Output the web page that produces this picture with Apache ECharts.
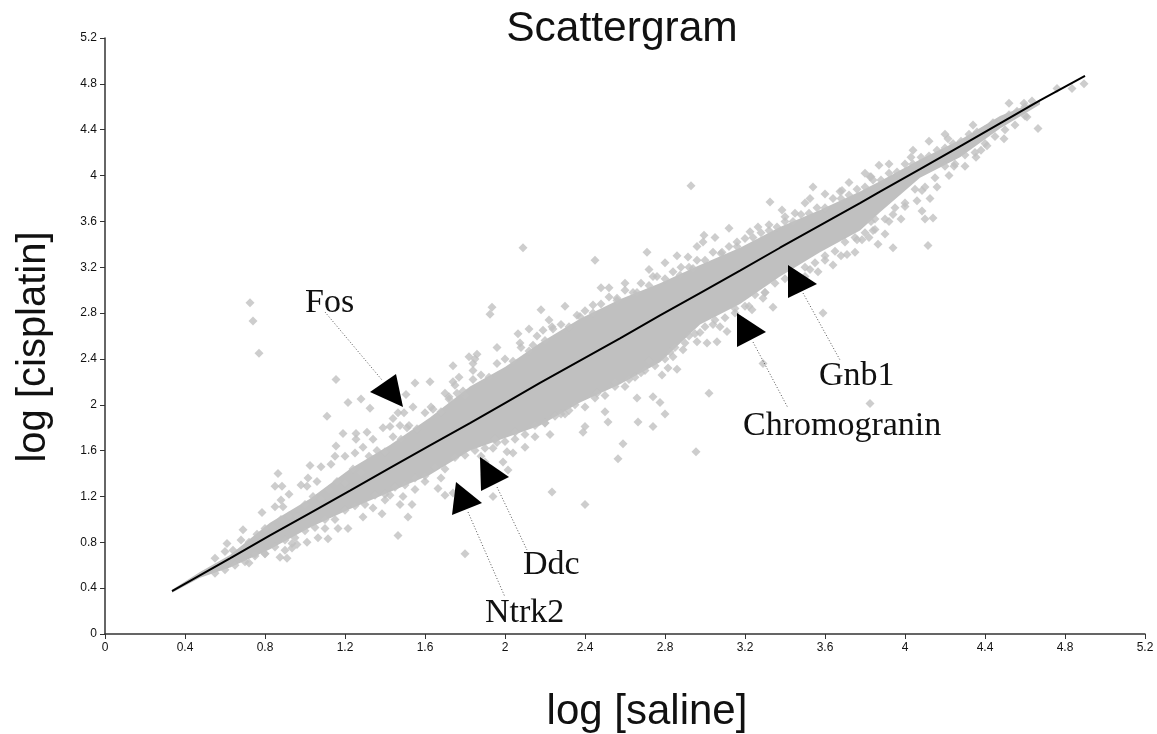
<!DOCTYPE html>
<html><head><meta charset="utf-8">
<script src="https://cdn.jsdelivr.net/npm/echarts@6/dist/echarts.min.js"></script>
<style>html,body{margin:0;padding:0;background:#fff}#c{width:1157px;height:734px}</style></head>
<body><div id="c"></div>
<script>
const titleText='Scattergram', xName='log [saline]', yName='log [cisplatin]';
const bandX=[0.335,0.475,0.625,0.825,1.025,1.225,1.425,1.625,1.825,2.0,2.175,2.375,2.575,2.775,2.975,3.175,3.375,3.575,3.775,3.875,4.075,4.275,4.475,4.675];
const bandUpper=[0.385,0.54,0.69,0.97,1.18,1.44,1.65,1.89,2.16,2.33,2.54,2.75,2.92,3.06,3.22,3.37,3.55,3.70,3.86,3.95,4.14,4.31,4.52,4.66];
const bandLower=[0.36,0.49,0.58,0.74,0.93,1.09,1.24,1.39,1.60,1.71,1.82,2.02,2.18,2.37,2.70,2.88,3.12,3.33,3.52,3.68,3.98,4.16,4.41,4.62];
const lineX=[0.335,0.625,0.825,1.025,1.225,1.425,1.625,1.825,2.0,2.175,2.375,2.575,2.775,2.975,3.175,3.375,3.575,3.775,3.875,4.075,4.275,4.475,4.675,4.9];
const lineY=[0.375,0.66,0.86,1.055,1.25,1.45,1.645,1.84,2.015,2.19,2.385,2.58,2.78,2.975,3.17,3.37,3.565,3.76,3.86,4.055,4.255,4.455,4.655,4.87];
const pointsX=[0.725,0.74,0.77,1.155,1.11,1.215,1.28,1.325,1.55,1.625,1.505,1.54,1.465,1.495,1.425,1.475,1.51,1.19,1.255,1.255,1.31,1.155,1.29,1.025,0.865,0.85,0.885,0.88,0.85,0.89,0.785,0.69,0.61,
1.80,1.465,1.515,1.385,1.29,1.215,1.165,1.115,1.065,1.01,0.935,0.935,0.875,0.91,1.475,1.535,1.425,1.49,1.665,1.70,1.74,1.94,1.99,2.015,1.96,2.01,2.04,
2.235,2.40,2.955,2.09,2.93,3.825,2.45,2.71,2.915,2.995,2.99,3.325,3.385,3.54,3.525,1.935,1.925,2.18,2.065,2.075,2.235,2.19,2.14,2.44,3.225,3.265,3.32,3.16,2.74,2.875,2.375,2.56,2.66,2.94,3.085,3.45,3.675,3.825,
2.565,2.59,3.02,3.59,3.29,2.80,2.74,2.665,2.515,2.50,2.40,2.39,2.775,2.74,2.66,2.225,2.10,3.34,2.785,2.86,2.815,2.89,2.825,2.96,3.01,3.06,3.075,3.11,2.975,3.235,3.29,3.64,3.71,3.75,3.865,3.94,3.90,3.565,3.525,
3.87,3.83,4.52,4.34,4.665,4.495,4.41,4.355,4.245,4.085,4.125,4.085,4.10,4.14,4.115,3.82,3.785,3.85,4.0,3.94,3.83,4.895,4.835,4.76,4.635,4.595,4.61,4.56,4.215,4.03,3.685,
1.015,1.01,1.06,1.13,1.20,1.25,1.34,1.39,1.44,1.63,1.70,1.74,1.74,1.84,1.84,1.82,1.85,1.86,1.79,1.77,1.72,1.75,1.96,0.92,0.98,1.08,1.15,
0.72,0.75,0.80,0.90,0.96,1.10,1.34,1.40,1.55,1.60,1.68,1.88,1.90,1.94,2.05,2.15,2.20,2.28,2.32,2.46,2.55,2.62,2.68,2.72,2.84,2.92,3.04,3.15,3.22,3.30,3.44,3.50,3.60,3.68,3.76,3.84,3.92,3.98,4.06,4.16,4.22,4.30,4.38,
2.12,2.22,2.30,2.48,2.52,2.60,2.72,2.80,2.86,2.96,3.05,3.12,3.40,3.50,3.60,3.72,3.80,3.92,4.04,4.12,4.2];
const pointsY=[2.89,2.73,2.45,2.22,1.90,2.02,2.05,1.97,2.19,2.20,2.09,1.98,1.93,1.93,1.81,1.82,1.80,1.75,1.75,1.70,1.76,1.64,1.63,1.47,1.40,1.29,1.29,1.17,1.11,1.11,1.06,0.91,0.79,
0.70,0.86,1.02,1.05,1.02,0.92,0.92,0.83,0.84,0.80,0.79,0.75,0.67,0.66,1.13,1.13,1.21,1.20,1.27,1.21,1.23,1.20,1.50,1.43,1.67,1.59,1.58,
1.24,1.13,1.59,3.37,3.91,2.01,3.26,3.33,3.29,3.48,3.42,3.77,3.70,3.90,3.80,2.85,2.79,2.83,2.62,2.54,2.68,2.65,2.52,2.87,3.51,3.55,3.57,3.42,3.12,3.13,2.77,2.93,2.98,3.19,3.33,3.67,3.86,3.99,
1.53,1.66,2.10,2.80,2.36,1.92,1.81,1.85,1.85,1.94,1.81,1.76,2.02,2.07,2.06,1.74,1.63,2.85,2.26,2.31,2.32,2.48,2.46,2.55,2.54,2.55,2.68,2.64,2.63,2.83,2.93,3.22,3.31,3.33,3.40,3.37,3.49,3.16,3.18,
4.09,3.99,4.63,4.44,4.41,4.32,4.26,4.16,4.08,3.87,3.80,3.69,3.62,3.63,3.39,3.46,3.44,3.53,3.73,3.66,3.60,4.80,4.76,4.76,4.65,4.63,4.51,4.56,4.32,4.16,3.87,
1.36,1.29,1.33,1.48,1.55,1.58,1.70,1.80,1.88,1.98,2.10,2.20,2.34,2.30,2.36,2.42,2.40,2.44,2.12,2.24,2.05,2.17,2.50,1.22,1.30,1.46,1.55,
0.62,0.68,0.70,0.73,0.78,0.92,1.10,1.17,1.26,1.33,1.36,1.55,1.50,1.62,1.70,1.72,1.84,1.92,1.95,2.10,2.20,2.22,2.28,2.38,2.42,2.60,2.70,2.80,2.86,2.98,3.06,3.12,3.26,3.30,3.44,3.52,3.60,3.62,3.78,3.90,4.00,4.08,4.22,
2.66,2.74,2.86,3.02,3.02,3.06,3.18,3.24,3.30,3.38,3.46,3.54,3.64,3.76,3.84,3.94,4.02,4.10,4.22,4.30,4.36];
const upperEdgeX=[0.55,0.60,0.64,0.68,0.72,0.76,0.80,0.84,0.88,0.92,0.96,1.0,1.04,1.08,1.12,1.16,1.2,1.24,1.28,1.32,1.36,1.4,1.44,1.48,1.52,1.56,1.6,1.64,1.68,1.72,1.76,1.8,1.84,1.88,1.92,1.96,2.0,2.04,2.08,2.12,2.16,2.2,2.24,2.28,2.32,2.36,2.4,2.44,2.48,2.52,2.56,2.6,2.64,2.68,2.72,2.76,2.8,2.84,2.88,2.92,2.96,3.0,3.04,3.08,3.12,3.16,3.2,3.24,3.28,3.32,3.36,3.4,3.44,3.48,3.52,3.56,3.6,3.64,3.68,3.72,3.76,3.8,3.84,3.88,3.92,3.96,4.0,4.04,4.08,4.12,4.16,4.2,4.24,4.28,4.32,4.36,4.4,4.44,4.48,4.52,4.56,4.6];
const upperEdgeY=[0.66,0.72,0.73,0.82,0.80,0.87,0.92,0.93,1.0,1.03,1.02,1.13,1.20,1.18,1.26,1.33,1.32,1.44,1.41,1.55,1.60,1.59,1.72,1.70,1.82,1.79,1.93,1.96,1.94,2.07,2.10,2.08,2.22,2.26,2.24,2.36,2.40,2.38,2.50,2.47,2.60,2.56,2.66,2.70,2.68,2.78,2.82,2.80,2.88,2.94,2.91,3.0,2.98,3.06,3.04,3.12,3.10,3.16,3.2,3.2,3.26,3.26,3.33,3.32,3.38,3.38,3.45,3.46,3.50,3.52,3.55,3.60,3.60,3.66,3.67,3.72,3.72,3.80,3.80,3.83,3.88,3.90,3.96,3.96,4.02,4.03,4.10,4.10,4.16,4.17,4.22,4.24,4.28,4.30,4.36,4.38,4.40,4.46,4.48,4.53,4.55,4.60];
const lowerEdgeX=[0.55,0.6,0.65,0.7,0.75,0.8,0.85,0.9,0.95,1.0,1.05,1.1,1.15,1.2,1.25,1.3,1.35,1.4,1.45,1.5,1.55,1.6,1.65,1.7,1.75,1.8,1.85,1.9,1.95,2.0,2.05,2.1,2.15,2.2,2.25,2.3,2.35,2.4,2.45,2.5,2.55,2.6,2.65,2.7,2.75,2.8,2.85,2.9,2.95,3.0,3.05,3.1,3.15,3.2,3.25,3.3,3.35,3.4,3.45,3.5,3.55,3.6,3.65,3.7,3.75,3.8,3.85,3.9,3.95,4.0,4.05,4.1,4.15,4.2,4.25,4.3,4.35,4.4,4.45,4.5,4.55,4.6];
const lowerEdgeY=[0.53,0.56,0.60,0.63,0.70,0.70,0.76,0.82,0.84,0.90,0.93,1.0,1.0,1.08,1.12,1.13,1.21,1.22,1.28,1.30,1.36,1.38,1.46,1.44,1.54,1.56,1.60,1.62,1.70,1.68,1.76,1.74,1.82,1.84,1.90,1.92,2.0,1.98,2.06,2.08,2.16,2.16,2.24,2.30,2.34,2.40,2.50,2.54,2.62,2.68,2.74,2.76,2.84,2.86,2.96,2.98,3.06,3.10,3.14,3.20,3.24,3.30,3.34,3.42,3.46,3.50,3.62,3.62,3.72,3.76,3.88,3.90,3.98,4.08,4.10,4.18,4.20,4.28,4.34,4.40,4.44,4.52];
const labelTexts=['Fos','Ddc','Ntrk2','Chromogranin','Gnb1'];
const tickStep=0.4, axisMax=5.2;

const pts=pointsX.map((x,i)=>[x,pointsY[i]])
  .concat(upperEdgeX.map((x,i)=>[x,upperEdgeY[i]]))
  .concat(lowerEdgeX.map((x,i)=>[x,lowerEdgeY[i]]));
const band=bandX.map((x,i)=>[x,bandUpper[i],bandLower[i]]);
const fmt=v=>String(parseFloat(v.toFixed(1)));
const axisBase={type:'value',min:0,max:axisMax,interval:tickStep,splitLine:{show:false},
  axisLine:{show:true,onZero:false,lineStyle:{color:'#333',width:1.5}},
  axisTick:{show:true,length:5,lineStyle:{color:'#333',width:1}},
  axisLabel:{color:'#111',fontSize:12,fontFamily:'Liberation Sans',formatter:fmt,margin:8,showMinLabel:true,showMaxLabel:true}};
const tri=p=>({type:'polygon',silent:true,shape:{points:p},style:{fill:'#000'},z:20});
const leader=(a,b)=>({type:'line',silent:true,shape:{x1:a[0],y1:a[1],x2:b[0],y2:b[1]},style:{stroke:'#555',lineWidth:1,lineDash:[1,2]},z:19});
const lab=(t,x,y)=>({type:'text',silent:true,x:x,y:y,style:{text:t,fill:'#111',font:'34px "Liberation Serif"',textVerticalAlign:'middle'},z:21});
const chart=echarts.init(document.getElementById('c'),null,{renderer:'canvas'});
chart.setOption({
  animation:false,backgroundColor:'#fff',
  title:{text:titleText,left:617,top:3,textAlign:'center',textStyle:{fontFamily:'Liberation Sans',fontSize:42.5,fontWeight:'normal',color:'#111'}},
  grid:{left:105,right:12,top:38,bottom:100,outerBoundsMode:'none'},
  xAxis:{...axisBase,name:xName,nameLocation:'middle',nameGap:57,nameTextStyle:{fontFamily:'Liberation Sans',fontSize:42,color:'#111',padding:[0,0,0,44]}},
  yAxis:{...axisBase,name:yName,nameLocation:'middle',nameGap:51,nameTextStyle:{fontFamily:'Liberation Sans',fontSize:40,color:'#111',padding:[0,22,0,0]}},
  series:[
    {type:'custom',data:band,z:2,silent:true,clip:false,encode:{x:0,y:[1,2]},
     renderItem:(params,api)=>{
       if(params.dataIndex!==0)return;
       const up=band.map(d=>api.coord([d[0],d[1]]));
       const lo=band.map(d=>api.coord([d[0],d[2]])).reverse();
       return {type:'polygon',shape:{points:up.concat(lo)},style:{fill:'#c0c0c0'}};
     }},
    {type:'scatter',data:pts,symbol:'diamond',symbolSize:9,itemStyle:{color:'#c0c0c0'},z:3,silent:true},
    {type:'line',data:lineX.map((x,i)=>[x,lineY[i]]),symbol:'none',lineStyle:{color:'#000',width:2},z:5,silent:true}
  ],
  graphic:[
    tri([[370,392],[396,374],[403,407]]),tri([[480,457],[509,477],[481,491]]),tri([[456,482],[482,503],[452,515]]),
    tri([[737,313],[766,332],[737,347]]),tri([[788,265],[817,284],[788,298]]),
    leader([325,312],[382,380]),leader([497,487],[527,550]),leader([468,512],[505,597]),leader([753,342],[788,408]),leader([803,293],[840,360]),
    lab(labelTexts[0],305,303),lab(labelTexts[1],523,565),lab(labelTexts[2],485,613),lab(labelTexts[3],743,426),lab(labelTexts[4],819,376)
  ]
});
</script></body></html>
